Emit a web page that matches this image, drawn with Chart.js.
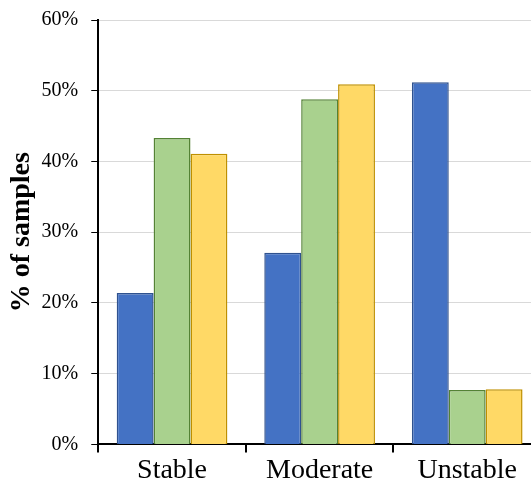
<!DOCTYPE html>
<html>
<head>
<meta charset="utf-8">
<script src="https://cdn.jsdelivr.net/npm/chart.js@4"></script>
<style>
  html, body { margin: 0; padding: 0; background: #fff; overflow: hidden; }
  #wrap { width: 541px; height: 488px; }
</style>
</head>
<body>
<div id="wrap"><canvas id="chart" width="541" height="488"></canvas></div>
<script>
const categories = ['Stable', 'Moderate', 'Unstable'];
const seriesBlue = [21.4, 27.1, 51.2];
const seriesGreen = [43.3, 48.8, 7.7];
const seriesYellow = [41.1, 50.9, 7.8];
const yTicks = [0, 10, 20, 30, 40, 50, 60];

const FONT = "'Liberation Serif', 'Times New Roman', serif";

new Chart(document.getElementById('chart'), {
    type: 'bar',
    data: {
        labels: categories,
        datasets: [
            { data: seriesBlue, backgroundColor: '#4472C4', borderColor: '#2F528F', borderWidth: 1.5 },
            { data: seriesGreen, backgroundColor: '#A9D18E', borderColor: '#548235', borderWidth: 1.5 },
            { data: seriesYellow, backgroundColor: '#FFD966', borderColor: '#BF9000', borderWidth: 1.5 }
        ]
    },
    options: {
        responsive: false,
        animation: false,
        devicePixelRatio: 1,
        layout: { padding: { top: 0, right: 0, left: 5, bottom: 0 } },
        datasets: { bar: { categoryPercentage: 0.75, barPercentage: 1.0 } },
        plugins: { legend: { display: false }, tooltip: { enabled: false } },
        scales: {
            x: {
                offset: true,
                grid: { offset: true, drawOnChartArea: false, drawTicks: true, tickLength: 8, tickColor: '#000', lineWidth: 2 },
                border: { color: '#000', width: 2 },
                ticks: { color: '#000', font: { family: FONT, size: 28 }, padding: 1 }
            },
            y: {
                min: 0,
                max: 60,
                afterBuildTicks: axis => { axis.ticks = yTicks.map(v => ({ value: v })); },
                grid: { color: '#d9d9d9', lineWidth: 1, tickLength: 7, tickColor: '#000' },
                border: { color: '#000', width: 2 },
                ticks: { color: '#000', font: { family: FONT, size: 20, lineHeight: 0.7 }, padding: 13, callback: v => v + '%' },
                title: { display: true, text: '% of samples', color: '#000', font: { family: FONT, size: 28, weight: 'bold' }, padding: { top: 0, bottom: -10 } }
            }
        }
    }
});
</script>
</body>
</html>
